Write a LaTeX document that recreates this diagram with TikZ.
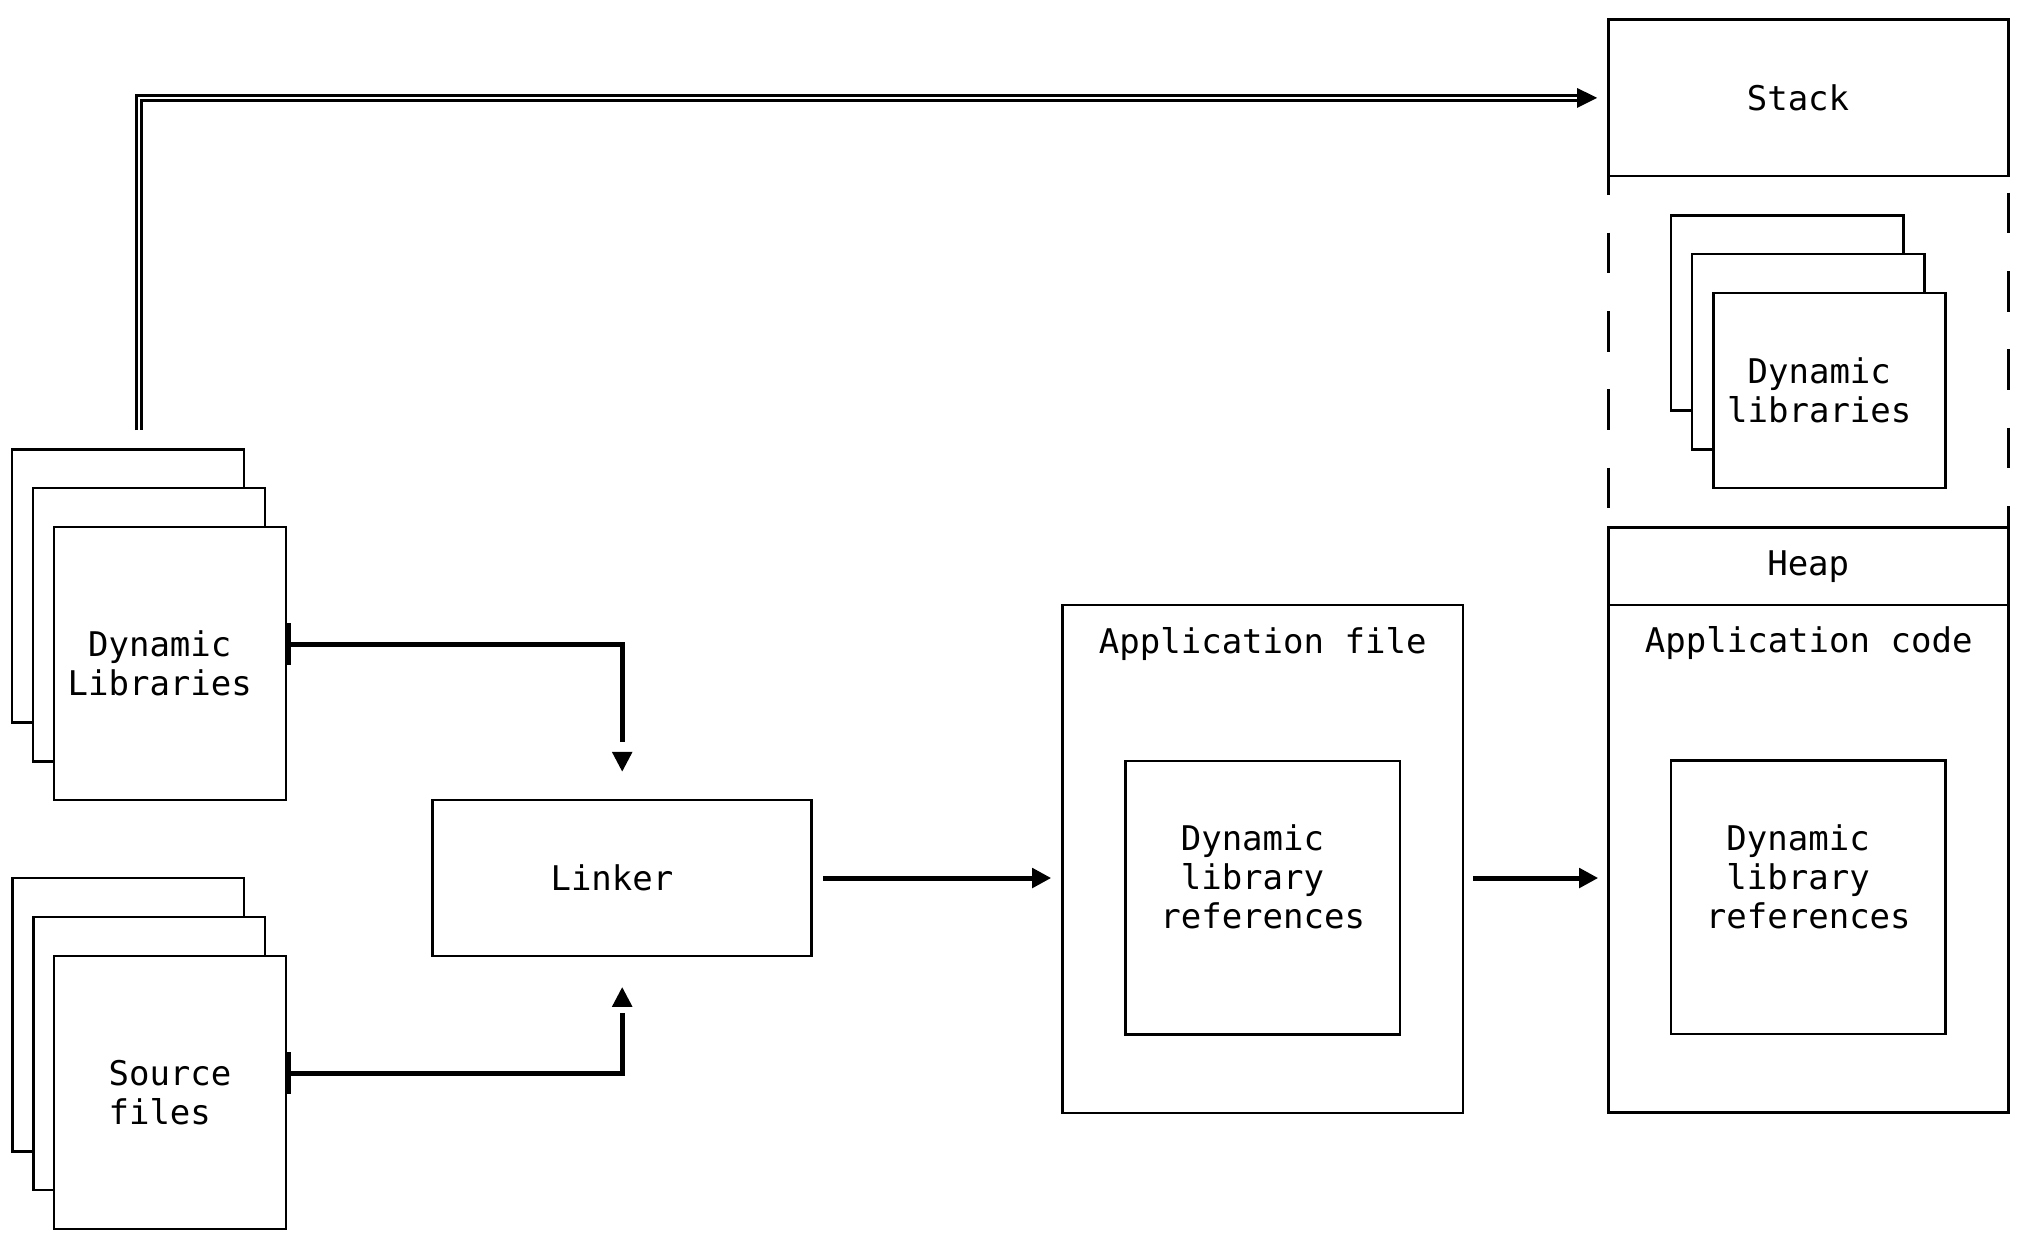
\documentclass[tikz,border=0pt]{standalone}
\usepackage{fontspec}
\newfontfamily\mono{DejaVu Sans Mono}
\usetikzlibrary{arrows.meta}
\begin{document}
\begin{tikzpicture}[x=0.01cm, y=-0.01cm,
  box/.style={draw, line width=0.026cm, fill=white, inner sep=0pt, outer sep=0pt},
  docbox/.style={box, minimum width=2.315cm, minimum height=2.73cm},
  smalldoc/.style={box, minimum width=2.323cm, minimum height=1.95cm},
  txt/.style={font=\mono\fontsize{9.67pt}{11.1pt}\selectfont, align=center, inner sep=0pt},
  flow/.style={line width=0.05cm},
  dbl/.style={line width=0.027cm, double=white, double distance=0.023cm},
  tri/.style={-{Triangle[length=0.19cm,width=0.19cm]}},
  dashl/.style={line width=0.026cm, dash pattern=on 0.407cm off 0.376cm}
]
\useasboundingbox (0,0) rectangle (2019,1251);

% left: dynamic libraries stack
\node[docbox] (dl1) at (128,586) {};
\node[docbox] (dl2) at (149,624.7) {};
\node[docbox] (dl3) at (170,663.4) {};
\node[txt] (dltxt) at (dl3) {Dynamic\phantom{x}\\Libraries\phantom{x}};

% left: source files stack
\node[docbox] (src1) at (128.3,1014.7) {};
\node[docbox] (src2) at (149.2,1053.5) {};
\node[docbox] (src3) at (170,1092.4) {};
\node[txt] (srctxt) at (src3) {Source\\files\phantom{x}};

% linker
\node[box, minimum width=3.787cm, minimum height=1.56cm] (linker) at (622.2,878) {};
\node[txt] (linkertxt) at (linker) {Linker\phantom{x}};

% application file
\node[box, minimum width=4.007cm, minimum height=5.08cm] (app) at (1262.7,859) {};
\node[txt] (apptxt) at (1262.7,643.6) {Application file};
\node[box, minimum width=2.744cm, minimum height=2.736cm] (appin) at (1262.7,897.8) {};
\node[txt] (appintxt) at (1262.7,876.5) {Dynamic\phantom{x}\\library\phantom{x}\\references};

% right column: memory
\node[box, minimum width=3.997cm, minimum height=1.562cm] (stack) at (1808.2,97.9) {};
\node[txt] (stacktxt) at (stack) {Stack\phantom{x}};
\node[box, minimum width=3.997cm, minimum height=0.778cm] (heap) at (1808.2,566.4) {};
\node[txt] (heaptxt) at (heap) {Heap};
\node[box, minimum width=3.997cm, minimum height=5.072cm] (code) at (1808.2,858.9) {};
\node[txt] (codetxt) at (1808.7,643) {Application code};
\node[box, minimum width=2.747cm, minimum height=2.736cm] (codein) at (1808.3,897.2) {};
\node[txt] (codeintxt) at (1808.3,876.5) {Dynamic\phantom{x}\\library\phantom{x}\\references};

% right column: loaded dynamic libraries
\node[smalldoc] (rdl1) at (1787.2,313) {};
\node[smalldoc] (rdl2) at (1808.3,351.7) {};
\node[smalldoc] (rdl3) at (1829.5,390.6) {};
\node[txt] (rdltxt) at (rdl3) {Dynamic\phantom{x}\\libraries\phantom{x}};

% dashed region sides
\draw[dashl, dash phase=0.217cm] (stack.south west) -- (heap.north west);
\draw[dashl, dash phase=0.617cm] (stack.south east) -- (heap.north east);

% connectors
\coordinate (dblstart) at (138.9,430);
\draw[dbl, -{Triangle[length=0.2cm,width=0.19cm]}, shorten >=0.11cm] (dblstart) |- (stack.west);

\draw[flow, {Bar[width=0.42cm]}-{Rectangle[length=0.1cm,width=0.19cm,color=white] Triangle[length=0.2cm,width=0.19cm]}, shorten >=0.28cm]
  ([yshift=0.194cm]dl3.east) -| (linker.north);
\draw[flow, {Bar[width=0.42cm]}-{Rectangle[length=0.06cm,width=0.19cm,color=white] Triangle[length=0.2cm,width=0.19cm]}, shorten >=0.307cm]
  ([yshift=0.191cm]src3.east) -| (linker.south);

\draw[flow, tri, shorten <=0.115cm, shorten >=0.11cm] (linker.east) -- (linker.east -| app.west);
\draw[flow, tri, shorten <=0.10cm, shorten >=0.10cm] (linker.east -| app.east) -- (linker.east -| code.west);
\end{tikzpicture}
\end{document}
